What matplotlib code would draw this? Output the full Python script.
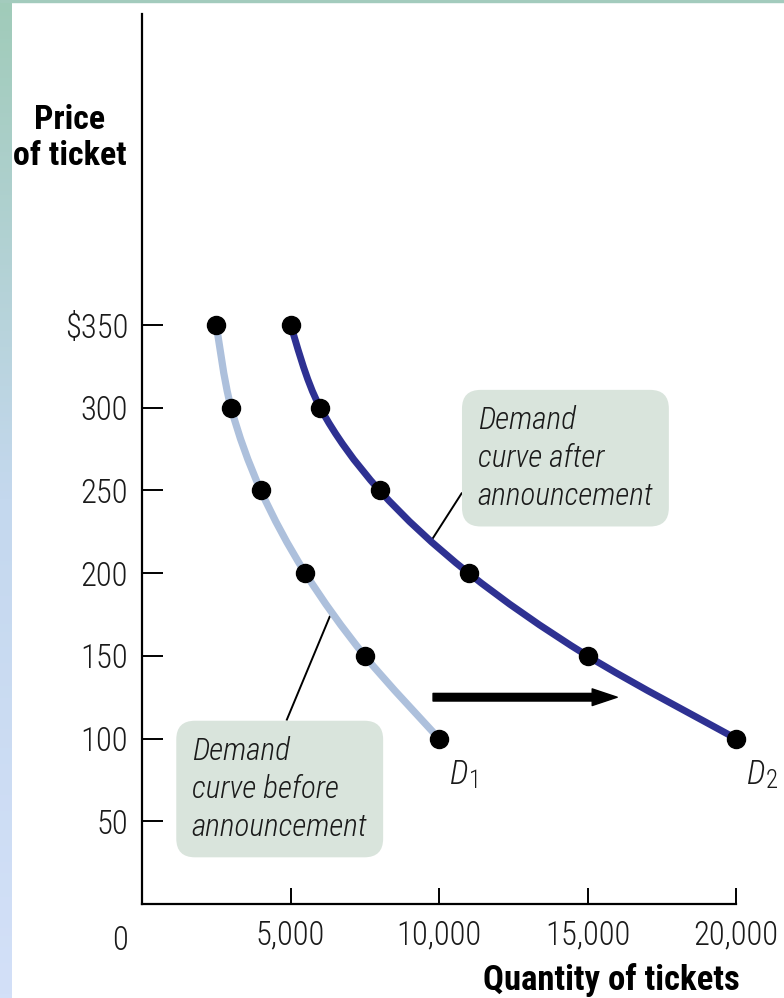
import numpy as np
import matplotlib
matplotlib.use("Agg")
import matplotlib.pyplot as plt
from matplotlib.path import Path
from matplotlib.patches import PathPatch, Rectangle

# data
prices = [350, 300, 250, 200, 150, 100]
qty_before = [2500, 3000, 4000, 5500, 7500, 10000]
qty_after = [5000, 6000, 8000, 11000, 15000, 20000]
x_ticks = [5000, 10000, 15000, 20000]
x_labels = ["5,000", "10,000", "15,000", "20,000"]
y_ticks = [50, 100, 150, 200, 250, 300, 350]
y_labels = ["50", "100", "150", "200", "250", "300", "$350"]

COND = ["Roboto Condensed", "DejaVu Sans"]
plt.rcParams["font.family"] = COND

LIGHT = "#adc0dc"
NAVY = "#2e3192"
BOXC = "#d9e4dc"
INK = "#1a1a1a"


def smooth_path(xs, ys):
    # catmull-rom through the points, as cubic bezier segments
    pts = np.column_stack([xs, ys]).astype(float)
    ext = np.vstack([pts[0], pts, pts[-1]])
    verts = [pts[0]]
    codes = [Path.MOVETO]
    for i in range(len(pts) - 1):
        p0, p1, p2, p3 = ext[i], ext[i + 1], ext[i + 2], ext[i + 3]
        verts += [p1 + (p2 - p0) / 6, p2 - (p3 - p1) / 6, p2]
        codes += [Path.CURVE4] * 3
    return Path(verts, codes)


fig = plt.figure(figsize=(7.84, 9.98), dpi=100)
fig.patch.set_facecolor("white")

# decorative left stripe and top line
strip = fig.add_axes([0, 0, 12 / 784, 1])
grad = np.linspace(0, 1, 256).reshape(-1, 1)
cmap = matplotlib.colors.LinearSegmentedColormap.from_list("s", ["#a0cbb9", "#c4d8ee", "#d3e0f8"])
strip.imshow(grad, aspect="auto", cmap=cmap, extent=[0, 1, 0, 1], origin="upper")
strip.axis("off")
fig.patches.append(Rectangle((0, 1 - 2 / 998), 1, 2 / 998, transform=fig.transFigure,
                             color="#a3cbbd", zorder=5))

ax = fig.add_axes([142 / 784, 94 / 998, 594 / 784, 890 / 998])
ax.set_xlim(0, 20000)
ax.set_ylim(0, 538)
for s in ["top", "right"]:
    ax.spines[s].set_visible(False)
for s in ["left", "bottom"]:
    ax.spines[s].set_linewidth(1.6)

ax.set_xticks(x_ticks)
ax.set_xticklabels(x_labels)
ax.set_yticks(y_ticks)
ax.set_yticklabels(y_labels)
ax.tick_params(axis="x", direction="in", length=11.5, width=1.4, pad=11, labelsize=23.5)
ax.tick_params(axis="y", direction="in", length=15, width=1.4, pad=10, labelsize=23.5)
for lab in ax.get_xticklabels() + ax.get_yticklabels():
    lab.set_color(INK)
    lab.set_fontweight(300)

ax.annotate("0", xy=(0, 0), xytext=(-16, -15), textcoords="offset points",
            ha="center", va="top", fontsize=23.5, fontweight=300, color=INK,
            annotation_clip=False)

# curves
ax.add_patch(PathPatch(smooth_path(qty_before, prices), fc="none", ec=LIGHT, lw=5.2,
                       capstyle="round", clip_on=False, zorder=3))
ax.add_patch(PathPatch(smooth_path(qty_after, prices), fc="none", ec=NAVY, lw=5.0,
                       capstyle="round", clip_on=False, zorder=3))
ax.plot(qty_before, prices, "o", color="black", ms=13, clip_on=False, zorder=5)
ax.plot(qty_after, prices, "o", color="black", ms=13, clip_on=False, zorder=5)

# shift arrow
ax.annotate("", xy=(16000, 125), xytext=(9800, 125),
            arrowprops=dict(width=5.5, headwidth=12, headlength=18, color="black", shrink=0))

# curve names
for q, sub in [(qty_before[-1], "1"), (qty_after[-1], "2")]:
    ax.annotate("D", xy=(q, 100), xytext=(8, -15), textcoords="offset points",
                ha="left", va="top", fontsize=24, fontweight=300, style="italic", color=INK,
                annotation_clip=False)
    ax.annotate(sub, xy=(q, 100), xytext=(21.5, -22), textcoords="offset points",
                ha="left", va="top", fontsize=18, fontweight=300, color=INK,
                annotation_clip=False)

# callout boxes
box = dict(boxstyle="round,pad=0.5,rounding_size=0.6", fc=BOXC, ec="none")
ax.text(1680, 69.5, "Demand\ncurve before\nannouncement", ha="left", va="center",
        fontsize=22.5, fontweight=300, style="italic", color=INK, linespacing=1.32,
        bbox=box, zorder=4)
ax.text(11300, 269.5, "Demand\ncurve after\nannouncement", ha="left", va="center",
        fontsize=22.5, fontweight=300, style="italic", color=INK, linespacing=1.32,
        bbox=box, zorder=4)
ax.plot([6321, 4876], [173.7, 111.4], color="black", lw=1.4, zorder=2)
ax.plot([10760, 9785], [248.2, 220.9], color="black", lw=1.4, zorder=2)

# axis titles
fig.text(70 / 784, 1 - 138 / 998, "Price\nof ticket", ha="center", va="center",
         fontsize=24.5, fontweight="bold", linespacing=1.15)
fig.text(740 / 784, 1 - 980 / 998, "Quantity of tickets", ha="right", va="center",
         fontsize=25, fontweight="bold")

fig.savefig("out.png", dpi=100)
